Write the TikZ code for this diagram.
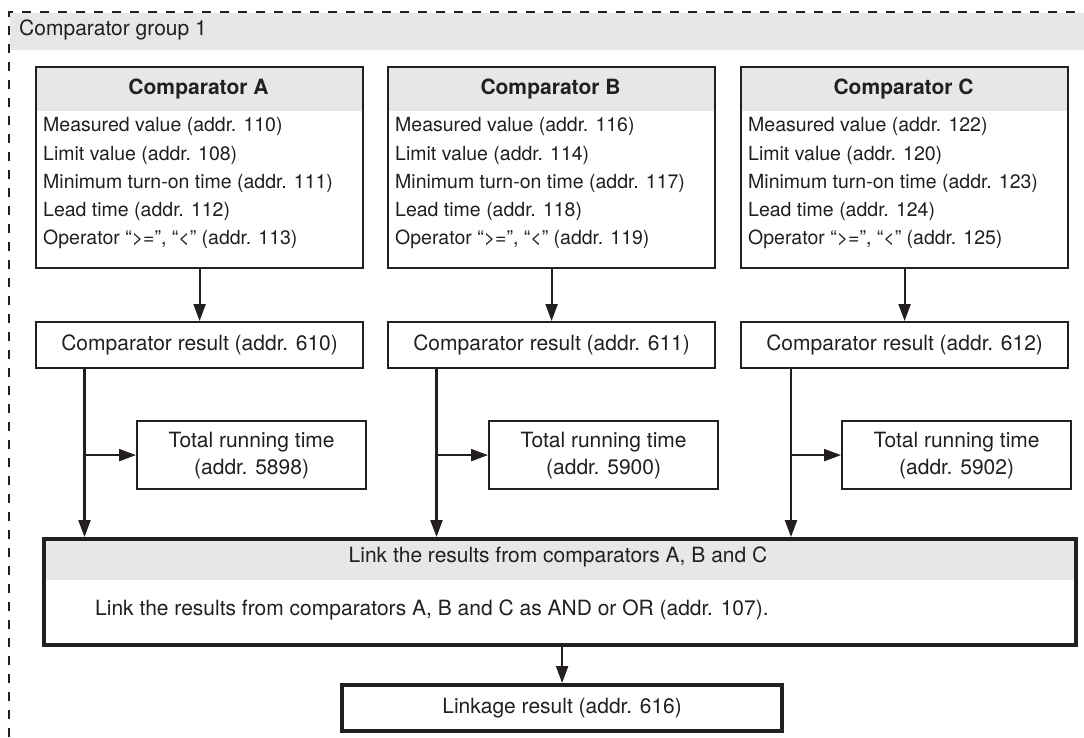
\documentclass[tikz,border=0pt]{standalone}
\usepackage{fontspec}
\setmainfont{TeX Gyre Heros}
\usetikzlibrary{arrows.meta,calc}
\definecolor{ink}{HTML}{231F20}
\definecolor{band}{HTML}{E6E7E8}
\newcommand\mycomp[8]{%
  \node[cbox] (#1) at (#2,66) {};
  \node[font=\fontsize{21}{28}\selectfont\bfseries] (#1h) at ({#2+163.5},89) {Comparator #3};
  \node[body] (#1a) at ({#2+8},126) {Measured value (addr. #4)};
  \node[body] (#1b) at ({#2+8},155) {Limit value (addr. #5)};
  \node[body] (#1c) at ({#2+8},183) {Minimum turn-on time (addr. #6)};
  \node[body] (#1d) at ({#2+8},211) {Lead time (addr. #7)};
  \node[body] (#1e) at ({#2+8},239) {Operator “>=”, “<” (addr. #8)};
}
\begin{document}
\begin{tikzpicture}[x=1pt,y=-1pt,
  every node/.style={font=\fontsize{21}{27}\selectfont, text=ink, inner sep=0pt},
  body/.style={anchor=west, font=\fontsize{19.5}{28}\selectfont},
  cbox/.style={draw=ink, line width=2.2pt, minimum width=327pt, minimum height=201pt, anchor=north west,
    path picture={\fill[band] (path picture bounding box.north west) rectangle ([yshift=-44pt]path picture bounding box.north east);}},
  rbox/.style={draw=ink, line width=2.2pt, minimum width=327pt, minimum height=46pt, anchor=north west},
  tbox/.style={draw=ink, line width=2.2pt, minimum width=229pt, minimum height=68pt, anchor=north west, align=center},
  lbox/.style={draw=ink, line width=4.2pt, minimum width=1032pt, minimum height=106pt, anchor=north west,
    path picture={\fill[band] (path picture bounding box.north west) rectangle ([yshift=-41pt]path picture bounding box.north east);}},
  fbox/.style={draw=ink, line width=4.2pt, minimum width=440pt, minimum height=46pt, anchor=north west},
  arr/.style={draw=ink, line width=2.2pt, -{Triangle[length=17pt,width=12pt]}},
  frame/.style={draw=ink, line width=2.2pt, dash pattern=on 9pt off 9pt}
]
\useasboundingbox (0,0) rectangle (1084,737);
\fill[white] (0,0) rectangle (1084,737);
% group frame
\fill[band] (10,13) rectangle (1084,50);
\draw[frame] (9,737) -- (9,12) -- (1084,12);
\node[anchor=west] (grp) at (19,30) {Comparator group 1};
% comparators
\mycomp{A}{35}{A}{110}{108}{111}{112}{113}
\mycomp{B}{387}{B}{116}{114}{117}{118}{119}
\mycomp{C}{740}{C}{122}{120}{123}{124}{125}
% results
\node[rbox] (Ar) at (35,321) {};
\node (Art) at (Ar.center) {Comparator result (addr. 610)};
\node[rbox] (Br) at (387,321) {};
\node (Brt) at (Br.center) {Comparator result (addr. 611)};
\node[rbox] (Cr) at (740,321) {};
\node (Crt) at (Cr.center) {Comparator result (addr. 612)};
% total running time
\node[tbox] (At) at (136,420) {Total running time\\(addr. 5898)};
\node[tbox] (Bt) at (488,420) {Total running time\\(addr. 5900)};
\node[tbox] (Ct) at (841,420) {Total running time\\(addr. 5902)};
% link box
\node[lbox] (L) at (42,537) {};
\node (Lh) at (558,557) {Link the results from comparators A, B and C};
\node[anchor=west] (Lb) at (95,610) {Link the results from comparators A, B and C as AND or OR (addr. 107).};
% linkage result
\node[fbox] (R) at (340,683) {};
\node (Rt) at (R.center) {Linkage result (addr. 616)};
% connectors
\draw[arr] (A.south) -- (Ar.north);
\draw[arr] (B.south) -- (Br.north);
\draw[arr] (C.south) -- (Cr.north);
\coordinate (Ab) at ([xshift=49.5pt]Ar.south west);
\coordinate (Bb) at ([xshift=49.5pt]Br.south west);
\coordinate (Cb) at ([xshift=51pt]Cr.south west);
\draw[arr] (Ab) -- (Ab |- L.north);
\draw[arr] (Bb) -- (Bb |- L.north);
\draw[arr] (Cb) -- (Cb |- L.north);
\draw[arr] (Ab |- At.west) -- (At.west);
\draw[arr] (Bb |- Bt.west) -- (Bt.west);
\draw[arr] (Cb |- Ct.west) -- (Ct.west);
\draw[arr] (R.north |- L.south) -- (R.north);
\end{tikzpicture}
\end{document}
